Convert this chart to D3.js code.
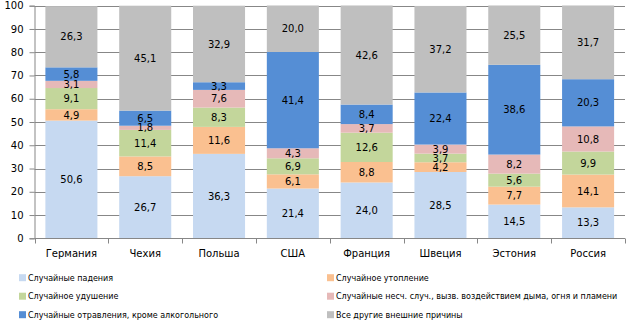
<!DOCTYPE html>
<html><head><meta charset="utf-8">
<script src="https://cdn.jsdelivr.net/npm/d3@7"></script>
<style>body{margin:0;background:#fff}svg{display:block}</style>
</head><body><svg id="c" width="630" height="322"></svg>
<script>
const categories = ["Германия","Чехия","Польша","США","Франция","Швеция","Эстония","Россия"];
const seriesNames = ["Случайные падения","Случайное утопление","Случайное удушение","Случайные несч. случ., вызв. воздействием дыма, огня и пламени","Случайные отравления, кроме алкогольного","Все другие внешние причины"];
const falls     = [50.6, 26.7, 36.3, 21.4, 24.0, 28.5, 14.5, 13.3];
const drowning  = [4.9, 8.5, 11.6, 6.1, 8.8, 4.2, 7.7, 14.1];
const choking   = [9.1, 11.4, 8.3, 6.9, 12.6, 3.7, 5.6, 9.9];
const fire      = [3.1, 1.8, 7.6, 4.3, 3.7, 3.9, 8.2, 10.8];
const poisoning = [5.8, 6.5, 3.3, 41.4, 8.4, 22.4, 38.6, 20.3];
const other     = [26.3, 45.1, 32.9, 20.0, 42.6, 37.2, 25.5, 31.7];
const yTicks = [0,10,20,30,40,50,60,70,80,90,100];
const colors = ["#C6D9F1","#FAC090","#C3D69B","#E6B9B8","#558ED5","#BFBFBF"];

const seriesVals = [falls, drowning, choking, fire, poisoning, other];
const rows = categories.map((c,i)=>{const r={cat:c}; seriesNames.forEach((s,k)=>r[s]=seriesVals[k][i]); return r;});
const stack = d3.stack().keys(seriesNames)(rows);

const svg = d3.select("#c");
const x0 = 34.5, x1 = 625, yTop = 5.7, yBot = 238.3;
const x = d3.scaleBand().domain(categories).range([x0, x1]).paddingInner(0.295).paddingOuter(0.1475);
const y = d3.scaleLinear().domain([0,100]).range([yBot, yTop]);
const font = "DejaVu Sans";

// gridlines
svg.append("g").selectAll("line").data(yTicks.filter(t=>t>0)).join("line")
  .attr("x1", x0).attr("x2", x1).attr("y1", d=>Math.round(y(d))+0.5).attr("y2", d=>Math.round(y(d))+0.5)
  .attr("stroke", "#878787").attr("stroke-width", 1);

// bars
const g = svg.append("g");
stack.forEach((s,k)=>{
  g.append("g").attr("fill", colors[k]).selectAll("rect").data(s).join("rect")
    .attr("x", d=>x(d.data.cat)).attr("width", x.bandwidth())
    .attr("y", d=>y(d[1])).attr("height", d=>y(d[0])-y(d[1]));
});
// labels
const fmt = v => d3.format(".1f")(v).replace(".", ",");
stack.forEach((s,k)=>{
  g.append("g").selectAll("text").data(s).join("text")
    .attr("x", d=>x(d.data.cat)+x.bandwidth()/2)
    .attr("y", d=>(y(d[0])+y(d[1]))/2)
    .attr("dy", "0.36em").attr("text-anchor","middle")
    .attr("font-family", font).attr("font-size", 10).attr("fill","#000")
    .text(d=>fmt(d[1]-d[0]));
});

// y axis
const ya = d3.axisLeft(y).tickValues(yTicks).tickSize(5).tickPadding(6).tickFormat(d=>d);
const yg = svg.append("g").attr("transform", `translate(${x0},0)`).call(ya);
yg.selectAll("text").attr("font-family", font).attr("font-size", 10).attr("fill","#000");
yg.selectAll("line,path").attr("stroke","#878787");

// x axis
const xg = svg.append("g").attr("transform", `translate(0,${Math.round(yBot)+0.5})`);
xg.append("line").attr("x1", x0).attr("x2", x1).attr("stroke","#878787");
const step = x.step();
xg.selectAll("line.t").data(d3.range(categories.length+1)).join("line").attr("class","t")
  .attr("x1", i=>Math.round(x0 + i*step)+0.5).attr("x2", i=>Math.round(x0 + i*step)+0.5)
  .attr("y1", 0).attr("y2", 5).attr("stroke","#878787");
xg.selectAll("text").data(categories).join("text")
  .attr("x", d=>x(d)+x.bandwidth()/2).attr("y", 18.5).attr("text-anchor","middle")
  .attr("font-family", font).attr("font-size", 10).attr("fill","#000").text(d=>d);

// legend
const legX = [19, 327], legY = [277.7, 296.2, 314.7];
const lg = svg.append("g");
seriesNames.forEach((s,k)=>{
  const cx = legX[k%2], cy = legY[Math.floor(k/2)];
  lg.append("rect").attr("x", cx).attr("y", cy-3.5).attr("width", 7).attr("height", 7).attr("fill", colors[k]);
  lg.append("text").attr("x", cx+9).attr("y", cy).attr("dy","0.35em")
    .attr("font-family", font).attr("font-size", 8).attr("fill","#000").text(s);
});
</script></body></html>
